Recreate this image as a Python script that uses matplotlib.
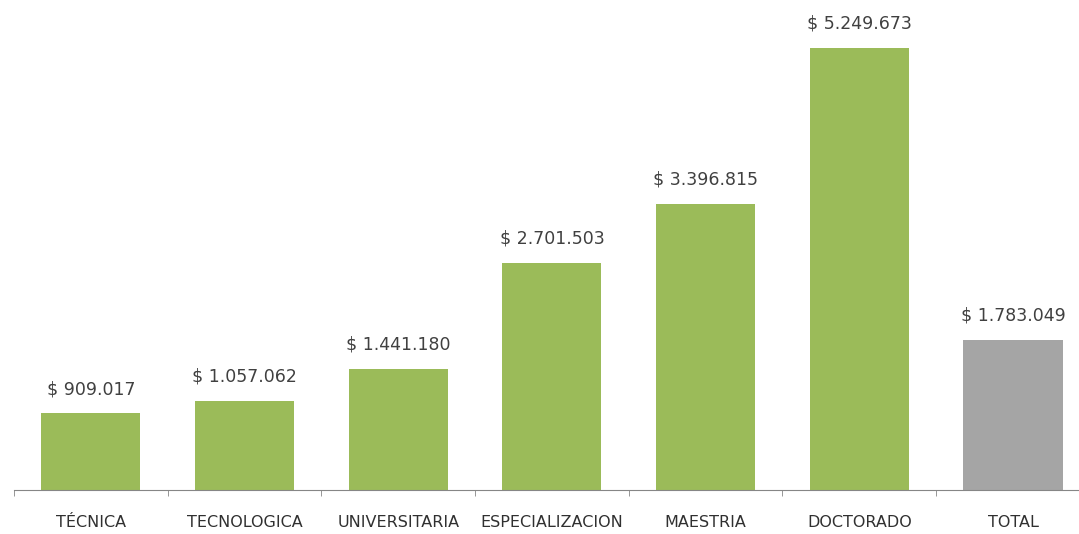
import numpy as np
import matplotlib.pyplot as plt

categories = ['TÉCNICA', 'TECNOLOGICA', 'UNIVERSITARIA', 'ESPECIALIZACION',
              'MAESTRIA', 'DOCTORADO', 'TOTAL']
values = [909017, 1057062, 1441180, 2701503, 3396815, 5249673, 1783049]
value_labels = ['$ 909.017', '$ 1.057.062', '$ 1.441.180', '$ 2.701.503',
                '$ 3.396.815', '$ 5.249.673', '$ 1.783.049']
colors = ['#9BBB59'] * 6 + ['#A5A5A5']


def main():
    fig = plt.figure(figsize=(10.79, 5.34), dpi=100)
    ax = fig.add_axes([0.013, 0.0824, 0.997, 0.9176])

    x = np.arange(len(categories))
    bars = ax.bar(x, values, width=0.645, color=colors)

    for b, lab in zip(bars, value_labels):
        ax.annotate(lab, (b.get_x() + b.get_width() / 2, b.get_height()),
                    xytext=(0, 11), textcoords='offset points',
                    ha='center', va='bottom', fontsize=12.5, color='#404040')

    ax.set_xlim(-0.5, len(categories) - 0.5)
    ax.set_ylim(0, max(values) * 490 / 442)

    ax.set_xticks(x)
    ax.set_xticklabels(categories, fontsize=11.5, color='#303030')
    ax.set_xticks(np.arange(len(categories) + 1) - 0.5, minor=True)
    ax.tick_params(axis='x', which='major', length=0, pad=18)
    ax.tick_params(axis='x', which='minor', length=4, color='#868686')
    ax.set_yticks([])

    for s in ['top', 'right', 'left']:
        ax.spines[s].set_visible(False)
    ax.spines['bottom'].set_color('#868686')

    fig.savefig('out.png', dpi=100)


if __name__ == '__main__':
    main()
